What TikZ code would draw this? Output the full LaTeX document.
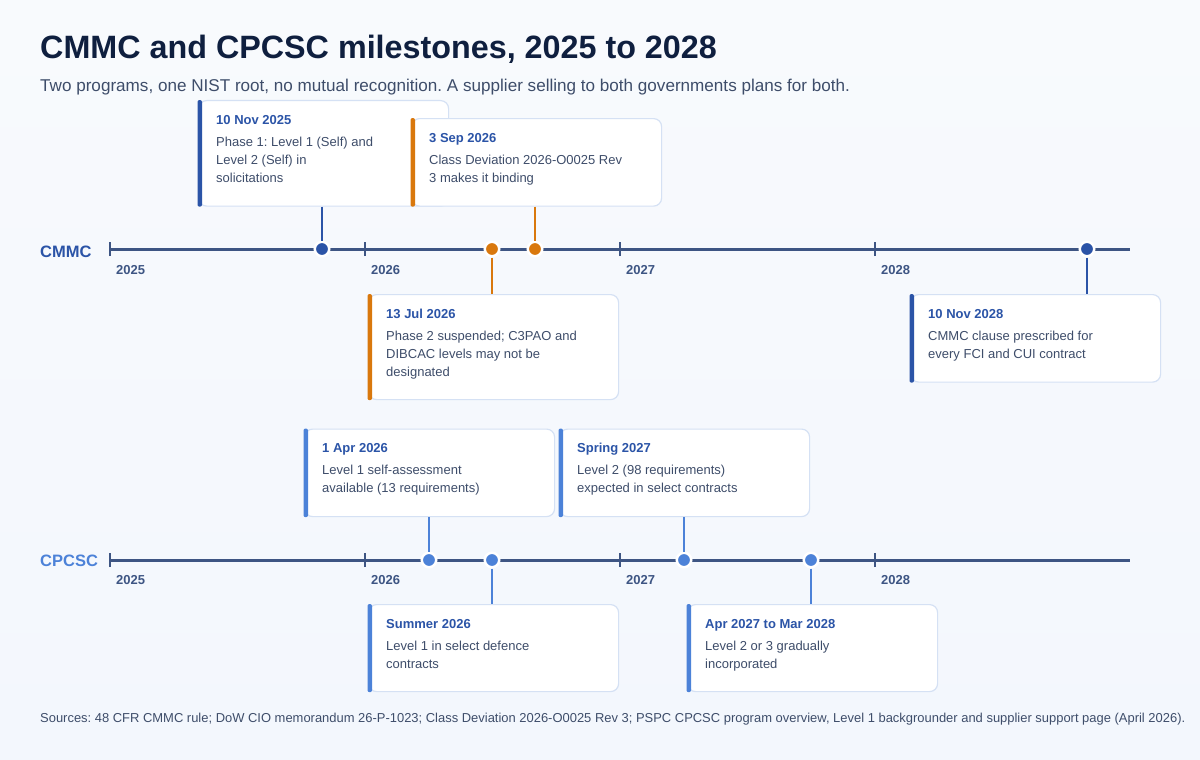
\documentclass[tikz,border=0pt]{standalone}
\usepackage{fontspec}
\setmainfont{Liberation Sans}
\usepackage{xcolor}
\frenchspacing
\definecolor{pagebg}{HTML}{F3F7FD}
\definecolor{pagebgtop}{HTML}{F8FAFD}
\definecolor{titleink}{HTML}{0F1F3F}
\definecolor{textink}{HTML}{3E4D6A}
\definecolor{axisink}{HTML}{3D5583}
\definecolor{cmmcblue}{HTML}{2B54A7}
\definecolor{cpcscblue}{HTML}{4C82D8}
\definecolor{dueorange}{HTML}{D9780D}
\definecolor{cardedge}{HTML}{D5E1F4}

\begin{document}
\begin{tikzpicture}[x=1pt,y=1pt,yscale=-1,
    card/.style={anchor=north west, minimum width=250pt, inner sep=0pt, fill=white, draw=cardedge, line width=1.2pt, rounded corners=8pt},
    cardtext/.style={anchor=base west, inner sep=0pt, align=left, text=textink, font=\fontsize{13}{18}\selectfont},
    cardbar/.style={rounded corners=2pt},
    timeaxis/.style={draw=axisink, line width=3pt},
    yeartick/.style={draw=axisink, line width=2pt},
    yearlabel/.style={anchor=base west, inner sep=0pt, text=axisink, font=\fontsize{13}{15}\selectfont\bfseries},
    msdot/.style={circle, inner sep=0pt, minimum size=14.5pt, draw=white, line width=2.5pt},
    msstem/.style={line width=2pt},
    rowlabel/.style={anchor=base west, inner sep=0pt, font=\fontsize{16.5}{18}\selectfont\bfseries}
  ]

    \shade [top color=pagebgtop, bottom color=pagebg] (0,0) rectangle (1200,760);
    \useasboundingbox (0,0) rectangle (1200,760);

    \draw (40,59) node [anchor=base west, inner sep=0pt, text=titleink, font=\fontsize{32.3}{36}\selectfont\bfseries] (title) {CMMC and CPCSC milestones, 2025 to 2028};
    \draw (40,92) node [anchor=base west, inner sep=0pt, text=textink, font=\fontsize{17.1}{20}\selectfont] (subtitle) {Two programs, one NIST root, no mutual recognition. A supplier selling to both governments plans for both.};

    \draw (40,257) node [rowlabel, text=cmmcblue] (cmmc) {CMMC};
    \draw (110,249) node [coordinate] (cmmcstart) {};
    \draw (1130,249) node [coordinate] (cmmcend) {};
    \draw [timeaxis] (cmmcstart) -- (cmmcend);
    \draw (110,249) node [coordinate] (ct25) {};
    \draw (365,249) node [coordinate] (ct26) {};
    \draw (620,249) node [coordinate] (ct27) {};
    \draw (875,249) node [coordinate] (ct28) {};
    \draw [yeartick] ([yshift=7pt]ct25) -- ([yshift=-7pt]ct25);
    \draw [yeartick] ([yshift=7pt]ct26) -- ([yshift=-7pt]ct26);
    \draw [yeartick] ([yshift=7pt]ct27) -- ([yshift=-7pt]ct27);
    \draw [yeartick] ([yshift=7pt]ct28) -- ([yshift=-7pt]ct28);
    \draw (116,274) node [yearlabel] (cy25) {2025};
    \draw (371,274) node [yearlabel] (cy26) {2026};
    \draw (626,274) node [yearlabel] (cy27) {2027};
    \draw (881,274) node [yearlabel] (cy28) {2028};

    \draw (40,566) node [rowlabel, text=cpcscblue] (cpcsc) {CPCSC};
    \draw (110,560) node [coordinate] (cpcscstart) {};
    \draw (1130,560) node [coordinate] (cpcscend) {};
    \draw [timeaxis] (cpcscstart) -- (cpcscend);
    \draw (110,560) node [coordinate] (pt25) {};
    \draw (365,560) node [coordinate] (pt26) {};
    \draw (620,560) node [coordinate] (pt27) {};
    \draw (875,560) node [coordinate] (pt28) {};
    \draw [yeartick] ([yshift=7pt]pt25) -- ([yshift=-7pt]pt25);
    \draw [yeartick] ([yshift=7pt]pt26) -- ([yshift=-7pt]pt26);
    \draw [yeartick] ([yshift=7pt]pt27) -- ([yshift=-7pt]pt27);
    \draw [yeartick] ([yshift=7pt]pt28) -- ([yshift=-7pt]pt28);
    \draw (116,584) node [yearlabel] (py25) {2025};
    \draw (371,584) node [yearlabel] (py26) {2026};
    \draw (626,584) node [yearlabel] (py27) {2027};
    \draw (881,584) node [yearlabel] (py28) {2028};

    \draw (198,100) node [card, minimum height=105.5pt] (nov25) {};
    \fill [cmmcblue, cardbar] ([xshift=-0.5pt]nov25.north west) rectangle ([xshift=4pt]nov25.south west);
    \draw (216,182) node [cardtext] (nov25txt) {{\bfseries\color{cmmcblue}10 Nov 2025}\\[4pt]Phase 1: Level 1 (Self) and\\Level 2 (Self) in\\solicitations};

    \draw (411,118) node [card, minimum height=87.5pt] (sep26) {};
    \fill [dueorange, cardbar] ([xshift=-0.5pt]sep26.north west) rectangle ([xshift=4pt]sep26.south west);
    \draw (429,182) node [cardtext] (sep26txt) {{\bfseries\color{cmmcblue}3 Sep 2026}\\[4pt]Class Deviation 2026-O0025 Rev\\3 makes it binding};

    \draw (368,294) node [card, minimum height=105pt] (jul26) {};
    \fill [dueorange, cardbar] ([xshift=-0.5pt]jul26.north west) rectangle ([xshift=4pt]jul26.south west);
    \draw (386,376) node [cardtext] (jul26txt) {{\bfseries\color{cmmcblue}13 Jul 2026}\\[4pt]Phase 2 suspended; C3PAO and\\DIBCAC levels may not be\\designated};

    \draw (910,294) node [card, minimum height=87.5pt] (nov28) {};
    \fill [cmmcblue, cardbar] ([xshift=-0.5pt]nov28.north west) rectangle ([xshift=4pt]nov28.south west);
    \draw (928,358) node [cardtext] (nov28txt) {{\bfseries\color{cmmcblue}10 Nov 2028}\\[4pt]CMMC clause prescribed for\\every FCI and CUI contract};

    \draw (304,428.5) node [card, minimum height=87.5pt] (apr26) {};
    \fill [cpcscblue, cardbar] ([xshift=-0.5pt]apr26.north west) rectangle ([xshift=4pt]apr26.south west);
    \draw (322,492.5) node [cardtext] (apr26txt) {{\bfseries\color{cmmcblue}1 Apr 2026}\\[4pt]Level 1 self-assessment\\available (13 requirements)};

    \draw (559,428.5) node [card, minimum height=87.5pt] (spr27) {};
    \fill [cpcscblue, cardbar] ([xshift=-0.5pt]spr27.north west) rectangle ([xshift=4pt]spr27.south west);
    \draw (577,492.5) node [cardtext] (spr27txt) {{\bfseries\color{cmmcblue}Spring 2027}\\[4pt]Level 2 (98 requirements)\\expected in select contracts};

    \draw (368,604) node [card, minimum height=87pt] (sum26) {};
    \fill [cpcscblue, cardbar] ([xshift=-0.5pt]sum26.north west) rectangle ([xshift=4pt]sum26.south west);
    \draw (386,668) node [cardtext] (sum26txt) {{\bfseries\color{cmmcblue}Summer 2026}\\[4pt]Level 1 in select defence\\contracts};

    \draw (687,604) node [card, minimum height=87pt] (apr27) {};
    \fill [cpcscblue, cardbar] ([xshift=-0.5pt]apr27.north west) rectangle ([xshift=4pt]apr27.south west);
    \draw (705,668) node [cardtext] (apr27txt) {{\bfseries\color{cmmcblue}Apr 2027 to Mar 2028}\\[4pt]Level 2 or 3 gradually\\incorporated};

    \draw (322,249) node [msdot, fill=cmmcblue] (dnov25) {};
    \draw (492,249) node [msdot, fill=dueorange] (djul26) {};
    \draw (535,249) node [msdot, fill=dueorange] (dsep26) {};
    \draw (1087,249) node [msdot, fill=cmmcblue] (dnov28) {};
    \draw (429,560) node [msdot, fill=cpcscblue] (dapr26) {};
    \draw (492,560) node [msdot, fill=cpcscblue] (dsum26) {};
    \draw (684,560) node [msdot, fill=cpcscblue] (dspr27) {};
    \draw (811,560) node [msdot, fill=cpcscblue] (dapr27) {};

    \draw [msstem, cmmcblue] (nov25.south -| dnov25) -- (dnov25.north);
    \draw [msstem, dueorange] (sep26.south -| dsep26) -- (dsep26.north);
    \draw [msstem, dueorange] (djul26.south) -- (jul26.north -| djul26);
    \draw [msstem, cmmcblue] (dnov28.south) -- (nov28.north -| dnov28);
    \draw [msstem, cpcscblue] (apr26.south -| dapr26) -- (dapr26.north);
    \draw [msstem, cpcscblue] (spr27.south -| dspr27) -- (dspr27.north);
    \draw [msstem, cpcscblue] (dsum26.south) -- (sum26.north -| dsum26);
    \draw [msstem, cpcscblue] (dapr27.south) -- (apr27.north -| dapr27);

    \draw (40,722) node [anchor=base west, inner sep=0pt, text=textink, font=\fontsize{12.95}{15}\selectfont] (sources) {Sources: 48 CFR CMMC rule; DoW CIO memorandum 26-P-1023; Class Deviation 2026-O0025 Rev 3; PSPC CPCSC program overview, Level 1 backgrounder and supplier support page (April 2026).};

\end{tikzpicture}
\end{document}
